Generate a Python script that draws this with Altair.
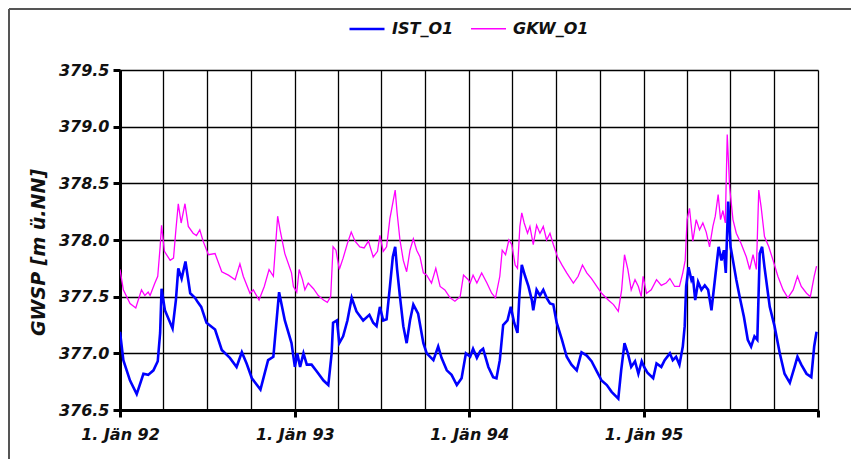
import altair as alt
import pandas as pd

# Days since 1 Jan 1992 and groundwater levels [m ü.NN]
ist_days = [0, 7, 21, 35, 49, 59, 70, 79, 84, 87, 94, 110, 117, 122, 129, 137, 147, 157, 163, 170,
            181, 199, 213, 230, 244, 255, 265, 276, 294, 310, 321, 333, 345, 359, 366, 371, 377, 384,
            391, 401, 412, 426, 436, 443, 446, 454, 459, 467, 476, 485, 495, 509, 522, 530, 537, 544,
            551, 558, 565, 571, 576, 580, 586, 593, 600, 607, 614, 624, 635, 642, 656, 666, 673, 684,
            694, 705, 715, 724, 733, 739, 747, 754, 760, 771, 781, 788, 795, 802, 811, 818, 825, 832,
            836, 841, 848, 855, 862, 865, 872, 879, 886, 893, 900, 907, 914, 925, 935, 945, 956, 966,
            977, 987, 998, 1008, 1019, 1029, 1043, 1049, 1056, 1063, 1070, 1078, 1085, 1092, 1097,
            1104, 1116, 1123, 1133, 1140, 1151, 1157, 1164, 1171, 1178, 1182, 1185, 1190, 1196, 1199,
            1204, 1210, 1217, 1224, 1231, 1238, 1246, 1253, 1259, 1264, 1268, 1273, 1278, 1283, 1290,
            1297, 1306, 1314, 1321, 1328, 1334, 1339, 1344, 1349, 1360, 1370, 1381, 1391, 1402, 1412,
            1418, 1426, 1437, 1447, 1453, 1458]
ist_vals = [377.19, 376.94, 376.76, 376.64, 376.82, 376.81, 376.85, 376.93, 377.18, 377.57, 377.38,
            377.22, 377.47, 377.75, 377.66, 377.81, 377.53, 377.49, 377.45, 377.41, 377.27, 377.21,
            377.03, 376.96, 376.88, 377.01, 376.91, 376.78, 376.68, 376.94, 376.97, 377.54, 377.29,
            377.09, 376.88, 377.00, 376.88, 377.00, 376.90, 376.90, 376.84, 376.76, 376.72, 377.00,
            377.27, 377.29, 377.09, 377.15, 377.29, 377.49, 377.37, 377.29, 377.34, 377.27, 377.24,
            377.41, 377.29, 377.30, 377.59, 377.85, 377.94, 377.74, 377.50, 377.24, 377.09, 377.29,
            377.43, 377.35, 377.09, 377.00, 376.94, 377.06, 376.96, 376.85, 376.81, 376.72, 376.78,
            377.00, 376.97, 377.04, 376.96, 377.02, 377.04, 376.88, 376.79, 376.78, 376.94, 377.25,
            377.29, 377.41, 377.27, 377.18, 377.51, 377.78, 377.68, 377.59, 377.47, 377.38, 377.56,
            377.51, 377.56, 377.49, 377.44, 377.43, 377.27, 377.12, 376.97, 376.90, 376.85, 377.01,
            376.98, 376.93, 376.84, 376.76, 376.72, 376.66, 376.60, 376.85, 377.09, 377.00, 376.88,
            376.93, 376.82, 376.93, 376.88, 376.83, 376.78, 376.91, 376.88, 376.94, 377.00, 376.94,
            376.97, 376.90, 377.06, 377.24, 377.59, 377.76, 377.65, 377.68, 377.47, 377.63, 377.56,
            377.60, 377.56, 377.38, 377.68, 377.94, 377.82, 377.91, 377.71, 378.34, 377.94, 377.82,
            377.65, 377.50, 377.32, 377.12, 377.06, 377.15, 377.12, 377.88, 377.94, 377.76, 377.41,
            377.24, 377.00, 376.82, 376.74, 376.88, 376.97, 376.90, 376.82, 376.79, 377.06, 377.19]

gkw_days = [0, 7, 21, 33, 45, 52, 59, 63, 73, 79, 84, 87, 93, 105, 112, 117, 122, 128, 136, 143, 153,
            160, 167, 174, 185, 199, 213, 227, 241, 251, 258, 272, 279, 291, 302, 312, 321, 330, 335,
            345, 359, 363, 370, 375, 382, 387, 394, 405, 415, 426, 434, 441, 446, 452, 459, 467, 476,
            484, 492, 502, 511, 520, 530, 539, 544, 551, 558, 565, 572, 576, 580, 586, 593, 600, 607,
            614, 621, 628, 635, 642, 652, 661, 670, 680, 691, 701, 712, 719, 729, 733, 739, 747, 757,
            768, 778, 786, 795, 800, 807, 814, 820, 827, 832, 837, 841, 846, 853, 858, 865, 872, 879,
            886, 893, 900, 907, 916, 925, 935, 949, 959, 968, 977, 987, 998, 1008, 1022, 1033, 1043,
            1050, 1056, 1063, 1070, 1078, 1085, 1091, 1095, 1102, 1112, 1123, 1133, 1143, 1151, 1161,
            1171, 1178, 1183, 1187, 1192, 1199, 1206, 1213, 1220, 1227, 1234, 1241, 1246, 1252, 1257,
            1262, 1267, 1271, 1276, 1283, 1290, 1300, 1311, 1318, 1325, 1332, 1337, 1342, 1349, 1358,
            1367, 1377, 1388, 1398, 1409, 1418, 1426, 1437, 1445, 1453, 1458]
gkw_vals = [377.74, 377.56, 377.44, 377.40, 377.56, 377.51, 377.54, 377.51, 377.62, 377.68, 377.94,
            378.13, 377.90, 377.82, 377.84, 378.09, 378.32, 378.15, 378.32, 378.12, 378.06, 378.04,
            378.09, 377.99, 377.87, 377.88, 377.72, 377.69, 377.65, 377.79, 377.68, 377.53, 377.56,
            377.47, 377.59, 377.74, 377.68, 378.21, 378.09, 377.88, 377.71, 377.59, 377.54, 377.74,
            377.65, 377.56, 377.62, 377.57, 377.51, 377.47, 377.45, 377.50, 377.94, 377.91, 377.74,
            377.84, 377.97, 378.07, 377.99, 377.94, 377.93, 377.99, 377.85, 377.90, 378.04, 377.90,
            377.94, 378.19, 378.35, 378.44, 378.24, 378.00, 377.82, 377.72, 377.91, 378.01, 377.91,
            377.85, 377.71, 377.69, 377.62, 377.75, 377.59, 377.56, 377.49, 377.46, 377.50, 377.69,
            377.65, 377.62, 377.69, 377.62, 377.71, 377.62, 377.53, 377.49, 377.68, 377.91, 377.87,
            378.00, 377.96, 377.78, 377.75, 378.12, 378.24, 378.15, 378.06, 378.12, 377.96, 378.13,
            378.06, 378.12, 378.00, 378.06, 377.96, 377.85, 377.78, 377.71, 377.62, 377.68, 377.78,
            377.71, 377.66, 377.59, 377.53, 377.47, 377.43, 377.37, 377.56, 377.87, 377.74, 377.56,
            377.65, 377.59, 377.50, 377.68, 377.53, 377.56, 377.65, 377.60, 377.62, 377.66, 377.59,
            377.59, 377.71, 377.82, 378.18, 378.28, 377.99, 378.18, 378.09, 378.15, 378.07, 377.94,
            378.12, 378.21, 378.40, 378.18, 378.26, 378.15, 378.93, 378.47, 378.18, 378.06, 377.97,
            377.85, 377.74, 377.87, 377.74, 378.44, 378.29, 378.03, 377.94, 377.82, 377.68, 377.56,
            377.49, 377.56, 377.68, 377.59, 377.53, 377.50, 377.68, 377.77]

series_names = ["IST_O1", "GKW_O1"]
series_colors = ["#0000ff", "#ff00ff"]
y_ticks = [376.5, 377.0, 377.5, 378.0, 378.5, 379.0, 379.5]

DAY_MS = 86400000
t0 = int(pd.Timestamp("1992-01-01", tz="UTC").value // 10**6)
t1 = int(pd.Timestamp("1996-01-01", tz="UTC").value // 10**6)
quarters = [int(t.value // 10**6) for t in pd.date_range("1992-01-01", "1996-01-01", freq="QS", tz="UTC")]

rows = []
for d, v in zip(gkw_days, gkw_vals):
    rows.append({"t": t0 + d * DAY_MS, "value": v, "series": "GKW_O1"})
for d, v in zip(ist_days, ist_vals):
    rows.append({"t": t0 + d * DAY_MS, "value": v, "series": "IST_O1"})
df = pd.DataFrame(rows)

FONT = "DejaVu Sans"

lines = alt.Chart(df).mark_line(clip=True).encode(
    x=alt.X("t:T",
            scale=alt.Scale(type="utc", domain=[t0, t1], nice=False),
            axis=alt.Axis(
                values=quarters, title=None, grid=True,
                labelExpr="utcmonth(datum.value) === 0 && utcyear(datum.value) < 1996 ? '1. Jän ' + utcFormat(datum.value, '%y') : ''",
                tickOpacity={"condition": {"test": "utcmonth(datum.value) === 0", "value": 1}, "value": 0},
                labelOverlap=False, labelFlush=False, labelPadding=9,
            )),
    y=alt.Y("value:Q",
            scale=alt.Scale(domain=[376.5, 379.5], nice=False, zero=False),
            axis=alt.Axis(values=y_ticks, format=".1f", title="GWSP [m ü.NN]",
                          titleFontSize=19, titlePadding=10, titleY=182,
                          labelPadding=4, labelOverlap=False, labelFlush=False)),
    color=alt.Color("series:N",
                    scale=alt.Scale(domain=series_names, range=series_colors),
                    legend=alt.Legend(orient="none", legendX=228, legendY=-60, direction="horizontal",
                                      title=None, symbolType="stroke", symbolSize=1225,
                                      symbolStrokeWidth=2.5, labelOffset=6, columnPadding=14,
                                      padding=0)),
    strokeWidth=alt.StrokeWidth("series:N",
                                scale=alt.Scale(domain=series_names, range=[2.6, 1.3]),
                                legend=None),
)

one = pd.DataFrame({"a": [0]})
frame_top = alt.Chart(one).mark_rule(color="#555555", strokeWidth=2).encode(
    x=alt.value(-111), x2=alt.value(731), y=alt.value(-61))
frame_left = alt.Chart(one).mark_rule(color="#555555", strokeWidth=2).encode(
    x=alt.value(-111), y=alt.value(-61), y2=alt.value(389))

chart = alt.layer(frame_top, frame_left, lines).properties(
    width=698, height=340,
    autosize=alt.AutoSizeParams(type="none"),
    padding={"left": 112, "top": 62, "right": 33, "bottom": 49},
).configure_view(stroke=None).configure_axis(
    domainColor="black", domainWidth=3,
    tickColor="black", tickWidth=3, tickSize=7,
    gridColor="black", gridWidth=1.3, gridOpacity=1,
    labelFont=FONT, labelFontSize=16, labelFontWeight="bold", labelFontStyle="italic",
    labelColor="#111111",
    titleFont=FONT, titleFontWeight="bold", titleFontStyle="italic", titleColor="#111111",
).configure_legend(
    labelFont=FONT, labelFontSize=16, labelFontWeight="bold", labelFontStyle="italic",
    labelColor="#111111",
)

chart.save("out.html", embed_options={"renderer": "svg", "actions": False})
